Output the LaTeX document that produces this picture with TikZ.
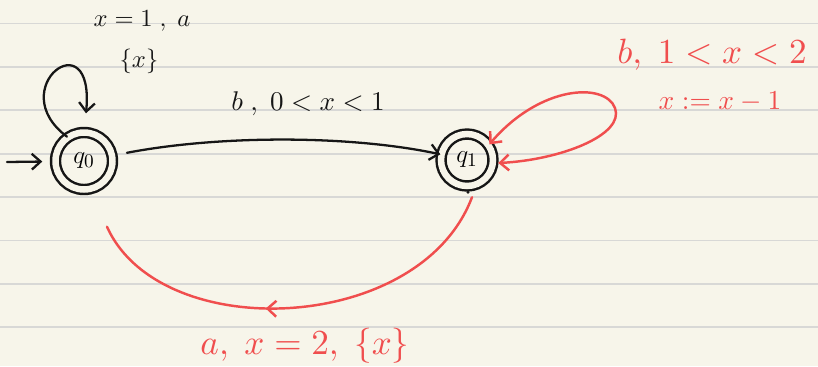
\documentclass[tikz,border=0pt]{standalone}
\usetikzlibrary{arrows.meta,calc,decorations.markings}
\definecolor{PaperClr}{HTML}{F7F5EA}
\definecolor{RuleClr}{HTML}{D8D8D6}
\definecolor{InkClr}{HTML}{161616}
\definecolor{PenClr}{HTML}{F04E4E}

\begin{document}
\begin{tikzpicture}[x=0.02cm,y=-0.02cm,line cap=round,
  >={Straight Barb[length=5pt,width=9pt]},
  state/.style={circle,draw=InkClr,line width=1.4pt,double=PaperClr,double distance=3.7pt,
    inner sep=0pt,font=\fontsize{15}{18}\selectfont},
  ink/.style={draw=InkClr,line width=1.3pt},
  pen/.style={draw=PenClr,line width=1.4pt},
  midarrow/.style={decoration={markings,mark=at position 0.57 with {\arrow{>}}},postaction={decorate}},
  inklbl/.style={text=InkClr,scale=1.4},
  penlbl/.style={text=PenClr,scale=2}]

\useasboundingbox[fill=PaperClr] (0,0) rectangle (818,366);
\foreach \y in {0,...,7}
  \draw[RuleClr,line width=1.1pt] (0,23.5+43.4*\y) -- (818,23.5+43.4*\y);

\node[state,minimum size=1.14cm] (q0) at (84,161) {$q_0$};
\node[state,minimum size=1.04cm] (q1) at (467,160) {$q_1$};

\coordinate (init) at (7,162);
\draw[ink,->,shorten >=0.24cm] (init) -- (q0);

% self loop q0
\draw[ink,->] (q0.125) .. controls (2,88) and (95,18) .. ($(q0.north)+(2,-18)$);

% q0 -> q1
\draw[ink,->,shorten <=0.28cm] (q0) .. controls (220,135) and (350,135) .. (q1);

% self loop q1 (red)
\coordinate (loopR) at (615,108);
\draw[pen,<->] ($(q1.east)+(4,3)$) .. controls (560,160) and (625,135) .. (loopR)
  .. controls (605,82) and (540,85) .. (q1.35);

% q1 -> q0 (red)
\fill[InkClr] ($(q1.south)+(1,5)$) circle (1.6);
\draw[pen,midarrow] ($(q1.south)+(5,10)$) .. controls (420,335) and (160,345) .. ($(q0.south)+(23,36)$);

\node[inklbl] (lblloop) at (142,21) {$x = 1\;,\; a$};
\node[inklbl] (lblreset) at (139,61) {$\{x\}$};
\node[inklbl,scale=1.1] (lblfwd) at (308,104) {$b\;,\;0<x<1$};
\node[penlbl] (lblstay) at (712,55) {$b,\;1<x<2$};
\node[penlbl,scale=0.78] (lblupd) at (720,102) {$x:=x-1$};
\node[penlbl] (lblback) at (305,346) {$a,\;x=2,\;\{x\}$};

\end{tikzpicture}
\end{document}
